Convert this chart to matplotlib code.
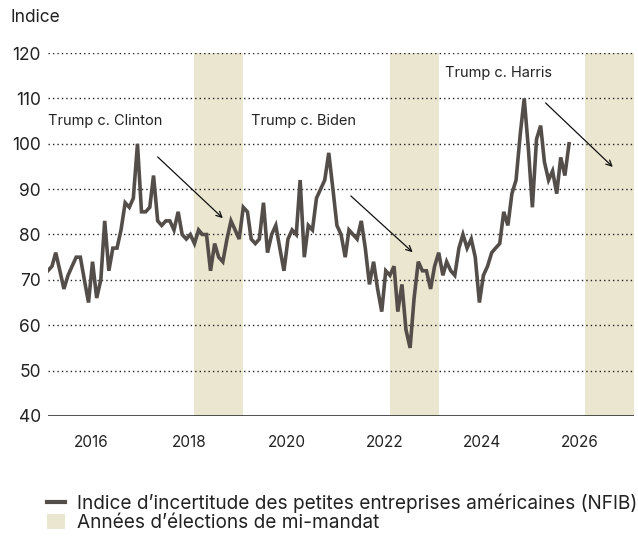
# =============================================================================
# NFIB small business uncertainty index vs. midterm election years
# =============================================================================

import datetime as dt

import matplotlib
matplotlib.use("Agg")
import matplotlib.dates as mdates
import matplotlib.pyplot as plt
import matplotlib.transforms as mtransforms
import pandas as pd
from matplotlib.lines import Line2D
from matplotlib.patches import Patch

# =============================================================================
# DATA
# =============================================================================

start_month = "2015-01-01"

index_values = [
    72, 73, 76, 72, 68, 71, 73, 75, 75, 70, 65, 74,
    66, 70, 83, 72, 77, 77, 81, 87, 86, 88, 100, 85,
    85, 86, 93, 83, 82, 83, 83, 81, 85, 80, 79, 80,
    78, 81, 80, 80, 72, 78, 75, 74, 79, 83, 81, 79,
    86, 85, 79, 78, 79, 87, 76, 80, 82, 77, 72, 79,
    81, 80, 92, 75, 82, 81, 88, 90, 92, 98, 90, 82,
    80, 75, 81, 80, 79, 83, 77, 69, 74, 68, 63, 72,
    71, 73, 63, 69, 59, 55, 66, 74, 72, 72, 68, 73,
    76, 71, 74, 72, 71, 77, 80, 77, 79, 75, 65, 71,
    73, 76, 77, 78, 85, 82, 89, 92, 102, 110, 99, 86,
    101, 104, 96, 92, 94, 89, 97, 93, 100,
]

midterm_years = [2018, 2022, 2026]

race_labels = ["Trump c. Clinton", "Trump c. Biden", "Trump c. Harris"]
race_label_pos = [("2015-01-05", 105), ("2019-03-01", 105), ("2023-02-20", 115.6)]
race_arrows = [
    (("2017-04-01", 97.1), ("2018-08-01", 83.6)),
    (("2021-03-15", 88.5), ("2022-06-20", 76.1)),
    (("2025-03-10", 109.0), ("2026-07-25", 94.9)),
]

y_ticks = [40, 50, 60, 70, 80, 90, 100, 110, 120]
x_tick_years = [2016, 2018, 2020, 2022, 2024, 2026]

legend_labels = [
    "Indice d\u2019incertitude des petites entreprises américaines (NFIB)",
    "Années d\u2019élections de mi-mandat",
]

# =============================================================================
# STYLE
# =============================================================================

LINE_COLOR = "#544e4a"
BAND_COLOR = "#ebe6d0"
TEXT_COLOR = "#222222"

plt.rcParams["font.family"] = ["Inter", "DejaVu Sans"]

dates = pd.date_range(start_month, periods=len(index_values), freq="MS")
series = pd.Series(index_values, index=dates)

# =============================================================================
# FIGURE
# =============================================================================

fig = plt.figure(figsize=(6.38, 5.36), dpi=100)
ax = fig.add_axes([0.075, 0.224, 0.919, 0.677])

for year in midterm_years:
    ax.axvspan(dt.datetime(year, 1, 1), dt.datetime(year + 1, 1, 1),
               color=BAND_COLOR, lw=0, zorder=0)

for y in y_ticks[1:]:
    ax.axhline(y, color="#222222", lw=1.0, ls=(0, (1, 2.2)), zorder=1)
ax.axhline(y_ticks[0], color="#222222", lw=1.1, zorder=1)

ax.plot(series.index, series.values, color=LINE_COLOR, lw=2.6,
        solid_joinstyle="miter", zorder=3)

for label, (xd, yv) in zip(race_labels, race_label_pos):
    ax.text(pd.Timestamp(xd), yv, label, fontsize=10.5, color=TEXT_COLOR,
            ha="left", va="center", zorder=4)

for (x0, y0), (x1, y1) in race_arrows:
    ax.annotate("", xy=(pd.Timestamp(x1), y1), xytext=(pd.Timestamp(x0), y0),
                arrowprops=dict(arrowstyle="->", color="#111111", lw=0.9,
                                mutation_scale=10, shrinkA=0, shrinkB=0),
                zorder=4)

ax.set_ylim(40, 120)
ax.set_xlim(dt.datetime(2015, 1, 1), dt.datetime(2027, 1, 1))
ax.set_yticks(y_ticks)
ax.set_xticks([dt.datetime(y, 1, 1) for y in x_tick_years])
ax.xaxis.set_major_formatter(mdates.DateFormatter("%Y"))

ax.tick_params(axis="y", length=0, pad=5, labelsize=12.5, labelcolor=TEXT_COLOR)
ax.tick_params(axis="x", length=0, pad=14, labelsize=11, labelcolor=TEXT_COLOR)

# year labels sit slightly left of January
shift = mtransforms.ScaledTranslation(-4 / 72, 0, fig.dpi_scale_trans)
for lbl in ax.get_xticklabels():
    lbl.set_transform(lbl.get_transform() + shift)

for side in ["top", "right", "left", "bottom"]:
    ax.spines[side].set_visible(False)

fig.text(0.017, 0.967, "Indice", fontsize=12.5, color=TEXT_COLOR,
         ha="left", va="center")

# =============================================================================
# LEGEND
# =============================================================================

handles = [
    Line2D([0], [0], color=LINE_COLOR, lw=3),
    Patch(facecolor=BAND_COLOR, edgecolor="none"),
]

fig.legend(handles, legend_labels, loc="upper left",
           bbox_to_anchor=(0.0737, 0.080), frameon=False, fontsize=13.7,
           handlelength=0.95, handleheight=0.85, handletextpad=0.6,
           labelspacing=0.05, borderaxespad=0, borderpad=0,
           labelcolor=TEXT_COLOR)

fig.savefig("out.png", dpi=100)
